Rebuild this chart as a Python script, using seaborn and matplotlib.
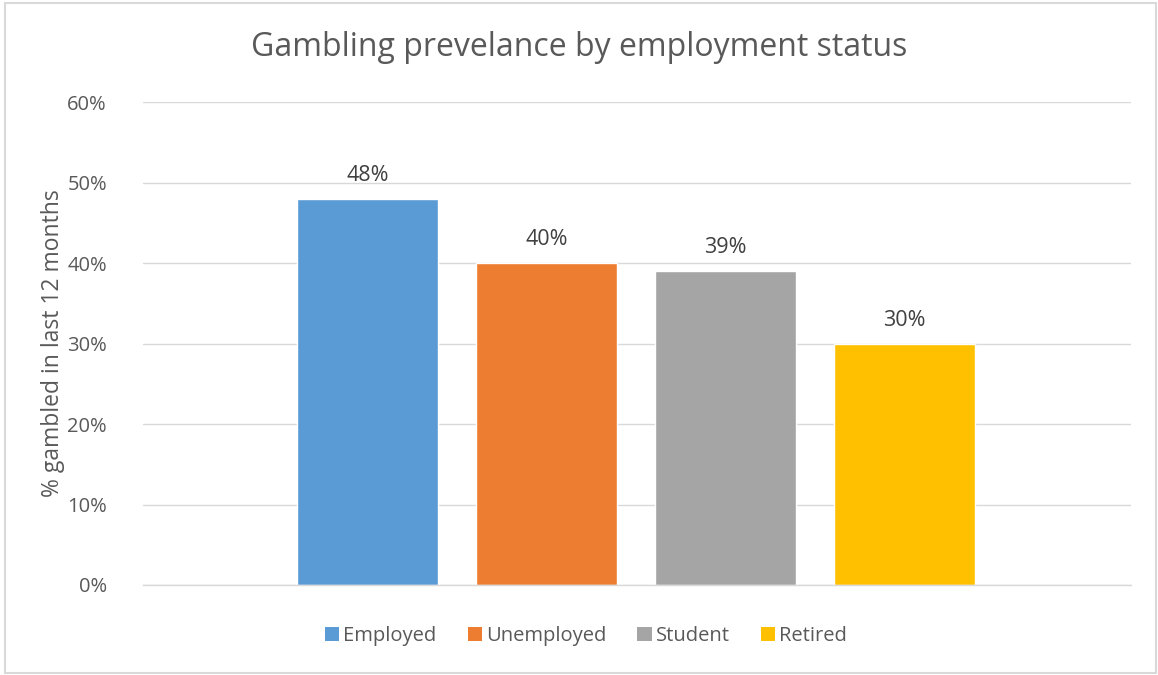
import matplotlib
matplotlib.use("Agg")
import matplotlib.pyplot as plt
import seaborn as sns
from matplotlib.patches import Patch, Rectangle
from matplotlib.ticker import FuncFormatter

categories = ["Employed", "Unemployed", "Student", "Retired"]
values = [48, 40, 39, 30]
colors = ["#5B9BD5", "#ED7D31", "#A5A5A5", "#FFC000"]
yticks = [0, 10, 20, 30, 40, 50, 60]

sns.set_theme(style="white")
plt.rcParams["font.family"] = ["Open Sans", "DejaVu Sans"]

W, H = 1158, 675
fig = plt.figure(figsize=(W / 100, H / 100), dpi=100)
ax = fig.add_axes([143 / W, 1 - 585 / H, (1131 - 143) / W, (585 - 102) / H])

sns.barplot(x=categories, y=values, hue=categories, palette=colors,
            width=0.785, ax=ax, legend=False, saturation=1)

ax.set_xlim(-1.255, 4.265)
ax.set_ylim(0, 60)
ax.set_yticks(yticks)
ax.yaxis.set_major_formatter(FuncFormatter(lambda v, p: f"{int(v)}%"))
ax.grid(axis="y", color="#D9D9D9", linewidth=1)
ax.set_axisbelow(True)
for s in ["top", "right", "left"]:
    ax.spines[s].set_visible(False)
ax.spines["bottom"].set_color("#D9D9D9")
ax.spines["bottom"].set_linewidth(1)
ax.set_xticks([])
ax.set_xlabel("")
ax.tick_params(axis="y", length=0, labelsize=14.5, labelcolor="#595959", pad=26)
ax.set_ylabel("% gambled in last 12 months", fontsize=16.5, color="#595959")
ax.yaxis.set_label_coords(-78 / 988, 0.5)

for i, v in enumerate(values):
    ax.text(i, v + 1.6, f"{v}%", ha="center", va="bottom", fontsize=15.5, color="#404040")

fig.text(0.5, 1 - 48 / H, "Gambling prevelance by employment status",
         ha="center", va="center", fontsize=23, color="#595959")

handles = [Patch(facecolor=c, edgecolor="none") for c in colors]
fig.legend(handles, categories, loc="center", bbox_to_anchor=(586 / W, 1 - 636 / H),
           ncol=4, frameon=False, fontsize=14.5, labelcolor="#595959",
           handlelength=0.7, handleheight=0.7, handletextpad=0.2, columnspacing=1.55)

fig.patches.append(Rectangle((5 / W, 2 / H), 1151 / W, 670 / H, transform=fig.transFigure,
                             fill=False, edgecolor="#D9D9D9", linewidth=1.5))

fig.savefig("out.png", dpi=100, facecolor="white")
